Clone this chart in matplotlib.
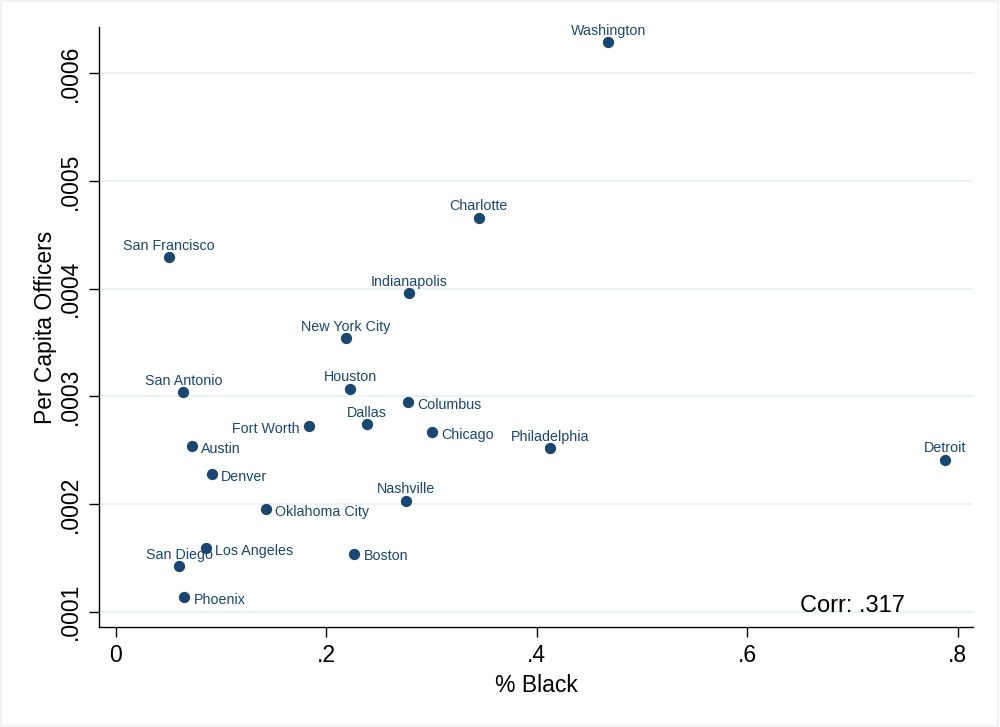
import matplotlib
matplotlib.use("Agg")
import matplotlib.pyplot as plt
from matplotlib.patches import Rectangle

cities = ["Washington", "Charlotte", "San Francisco", "Indianapolis", "New York City",
          "San Antonio", "Houston", "Columbus", "Dallas", "Fort Worth", "Chicago",
          "Philadelphia", "Detroit", "Austin", "Denver", "Nashville", "Oklahoma City",
          "Los Angeles", "Boston", "San Diego", "Phoenix"]
pct_black = [0.468, 0.345, 0.0508, 0.279, 0.219,
             0.0644, 0.2228, 0.278, 0.239, 0.1838, 0.3007,
             0.4127, 0.788, 0.0724, 0.0914, 0.276, 0.1427,
             0.086, 0.2269, 0.0603, 0.0654]
per_capita = [0.000629, 0.000466, 0.000429, 0.000396, 0.000354,
              0.000304, 0.000307, 0.000295, 0.000274, 0.000272, 0.000267,
              0.000252, 0.000241, 0.000254, 0.000228, 0.000203, 0.000195,
              0.000159, 0.000154, 0.000142, 0.000114]
label_pos = ["top", "top", "top", "top", "top",
             "top", "top", "right", "top", "left", "right",
             "top", "top", "right", "right", "top", "right",
             "right", "right", "top", "right"]
x_ticks = [0, 0.2, 0.4, 0.6, 0.8]
x_tick_labels = ["0", ".2", ".4", ".6", ".8"]
y_ticks = [0.0001, 0.0002, 0.0003, 0.0004, 0.0005, 0.0006]
y_tick_labels = [".0001", ".0002", ".0003", ".0004", ".0005", ".0006"]
corr_text = "Corr: .317"

navy = "#1a476f"
plt.rcParams['font.family'] = ['Liberation Sans', 'DejaVu Sans']

fig = plt.figure(figsize=(10, 7.27), dpi=100)
ax = fig.add_axes([0.099, 0.1376, 0.874, 0.8253])
fig.patches.append(Rectangle((0.001, 0.002), 0.997, 0.996, transform=fig.transFigure,
                             fill=False, edgecolor="#eef2f4", linewidth=1.5))

ax.set_xlim(-0.0157, 0.8146)
ax.set_ylim(0.0000858, 0.000643)

for yt in y_ticks:
    ax.axhline(yt, color="#eaf2f3", linewidth=1.5, zorder=0)

ax.scatter(pct_black, per_capita, s=66, color=navy, zorder=3, linewidths=0)

fs_lab = 10.3
for name, x, y, pos in zip(cities, pct_black, per_capita, label_pos):
    if pos == "top":
        ax.annotate(name, (x, y), xytext=(0, 5.3), textcoords="offset points",
                    ha="center", va="baseline", fontsize=fs_lab, color=navy)
    elif pos == "right":
        ax.annotate(name, (x, y), xytext=(6.8, -5.0), textcoords="offset points",
                    ha="left", va="baseline", fontsize=fs_lab, color=navy)
    else:
        ax.annotate(name, (x, y), xytext=(-6.8, -5.0), textcoords="offset points",
                    ha="right", va="baseline", fontsize=fs_lab, color=navy)

ax.text(0.65, 0.0001, corr_text, ha="left", va="baseline", fontsize=17, color="black")

ax.set_xticks(x_ticks)
ax.set_xticklabels(x_tick_labels, fontsize=16.5)
ax.set_yticks(y_ticks)
ax.set_yticklabels(y_tick_labels, fontsize=16.5, rotation=90, va="center")
ax.tick_params(axis="both", direction="out", length=7.5, width=1, pad=5)

for s in ["top", "right"]:
    ax.spines[s].set_visible(False)
for s in ["left", "bottom"]:
    ax.spines[s].set_linewidth(1.0)

ax.set_xlabel("% Black", fontsize=16.5, labelpad=5)
ax.set_ylabel("Per Capita Officers", fontsize=16.5, labelpad=1)

fig.savefig("out.png", dpi=100, facecolor="white")
